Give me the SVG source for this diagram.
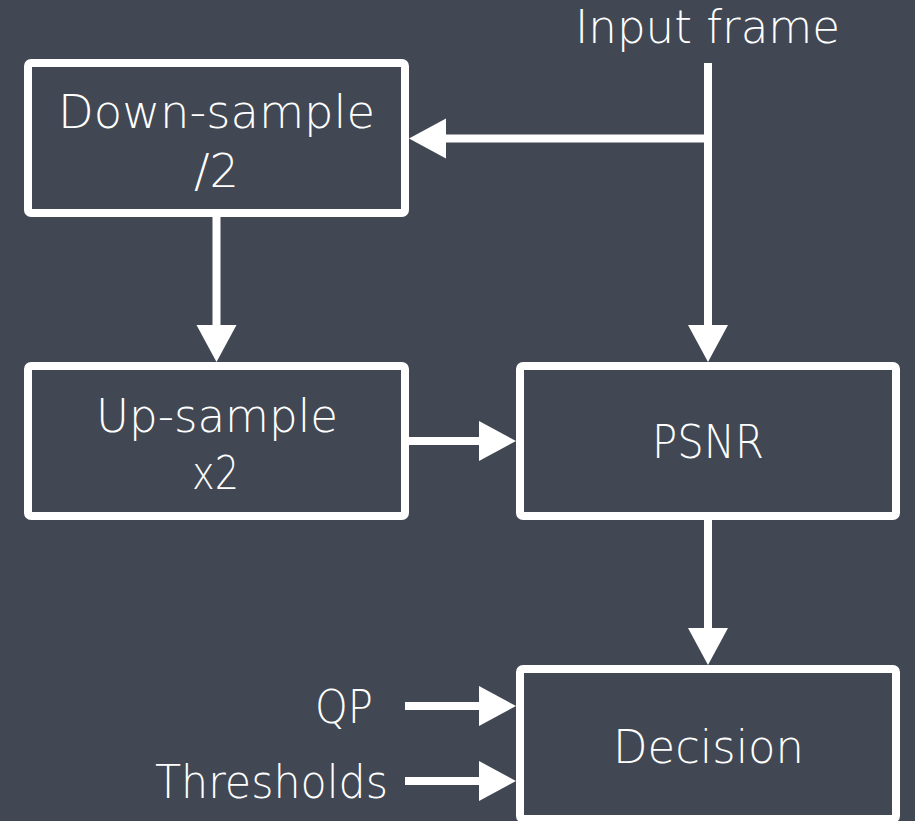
<svg xmlns="http://www.w3.org/2000/svg" width="915" height="821" viewBox="0 0 915 821">
<style>
.bg{fill:#414853}
.box{fill:#414853;stroke:#fff;stroke-width:8;stroke-linejoin:round}
.t{fill:#fff;font-family:"DejaVu Sans","Liberation Sans",sans-serif;font-weight:200;font-size:46px}
.c{text-anchor:middle}
.r{text-anchor:end}
.ln{fill:none;stroke:#fff;stroke-width:8;marker-end:url(#ah)}
</style>
<defs>
<marker id="ah" markerUnits="userSpaceOnUse" markerWidth="38" markerHeight="40" refX="0" refY="20" orient="auto" overflow="visible">
<path d="M0,0 L37,20 L0,40 z" fill="#fff"/>
</marker>
</defs>
<rect class="bg" x="0" y="0" width="915" height="821"/>
<g id="connectors">
<path class="ln" d="M708,63 V325"/>
<path class="ln" d="M712,138.5 H446"/>
<path class="ln" d="M216.5,213 V325"/>
<path class="ln" d="M405,441 H479"/>
<path class="ln" d="M708,516 V628"/>
<path class="ln" d="M405,706 H479"/>
<path class="ln" d="M405,781 H479"/>
</g>
<g id="input">
<text class="t c" x="707.5" y="43" textLength="265" lengthAdjust="spacingAndGlyphs">Input frame</text>
</g>
<g id="downsample">
<rect class="box" x="28" y="63" width="377" height="150" rx="3"/>
<text class="t c" x="216.5" y="128" textLength="317" lengthAdjust="spacingAndGlyphs">Down-sample</text>
<text class="t c" x="216.5" y="187" textLength="45" lengthAdjust="spacingAndGlyphs">/2</text>
</g>
<g id="upsample">
<rect class="box" x="28" y="366" width="377" height="150" rx="3"/>
<text class="t c" x="217" y="432" textLength="242" lengthAdjust="spacingAndGlyphs">Up-sample</text>
<text class="t c" x="215.5" y="489" textLength="47" lengthAdjust="spacingAndGlyphs">x2</text>
</g>
<g id="psnr">
<rect class="box" x="520" y="366" width="376" height="150" rx="3"/>
<text class="t c" x="708" y="458" textLength="112" lengthAdjust="spacingAndGlyphs">PSNR</text>
</g>
<g id="decision">
<rect class="box" x="520" y="669" width="376" height="150" rx="3"/>
<text class="t c" x="708.5" y="763" textLength="191" lengthAdjust="spacingAndGlyphs">Decision</text>
</g>
<g id="qp">
<text class="t r" x="373" y="723" textLength="58" lengthAdjust="spacingAndGlyphs">QP</text>
</g>
<g id="thresholds">
<text class="t r" x="388" y="798" textLength="233" lengthAdjust="spacingAndGlyphs">Thresholds</text>
</g>
</svg>
